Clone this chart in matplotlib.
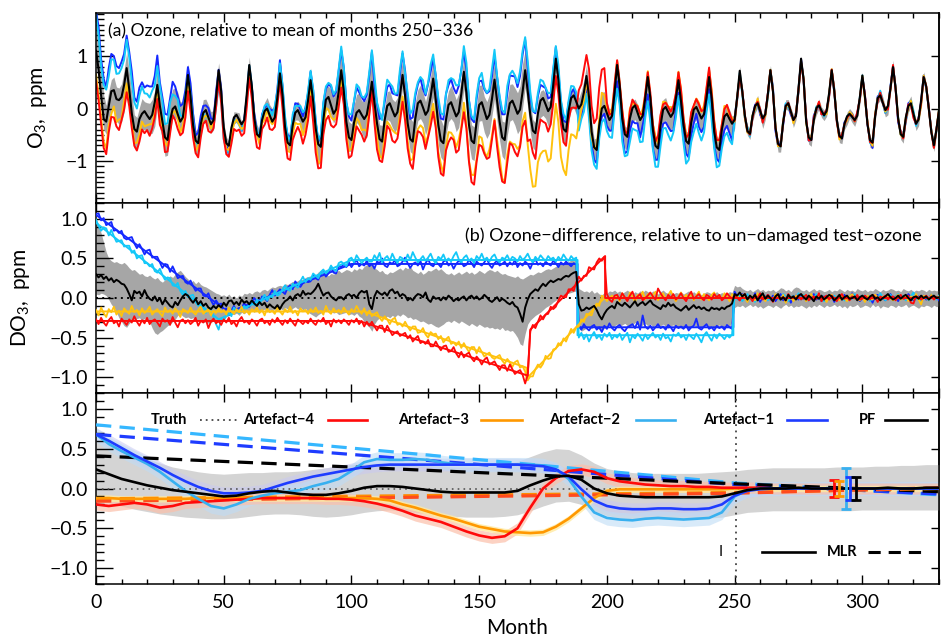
import numpy as np
import matplotlib
matplotlib.use("Agg")
import matplotlib.pyplot as plt
from matplotlib.ticker import MultipleLocator, FuncFormatter, NullLocator

plt.rcParams['font.family'] = ['Lato', 'DejaVu Sans']
plt.rcParams['mathtext.fontset'] = 'custom'
plt.rcParams['mathtext.rm'] = 'Lato'
plt.rcParams['mathtext.it'] = 'Lato:italic'
plt.rcParams['axes.linewidth'] = 1.1

# ---------------------------------------------------------------------------
# Monthly series (month 0 ... 330), values in units of 0.01 ppm, one row per year
# ---------------------------------------------------------------------------
# PF reconstruction of ozone, relative to the mean of months 250-336
pf_ozone = [
    110, 75, 25, -20, -25, 5, 33, 35, 18, 16, 22, 45,
    77, 37, -9, -39, -44, -20, -10, -5, -13, -20, -12, 12,
    45, 5, -25, -55, -60, -23, -1, 4, -11, -25, -17, 20,
    64, 24, -31, -61, -66, -30, -8, -3, -17, -30, -22, 22,
    73, 33, -36, -66, -71, -37, -17, -12, -21, -30, -22, 27,
    83, 43, -19, -49, -54, -22, -5, 0, -13, -25, -17, 21,
    67, 27, -35, -65, -70, -32, -8, -3, -14, -25, -17, 15,
    54, 14, -38, -68, -73, -21, 17, 22, 6, -10, -2, 32,
    73, 33, -25, -55, -60, -27, -8, -3, -12, -20, -12, 16,
    51, 11, -28, -58, -63, -22, 5, 10, -3, -15, -7, 25,
    64, 24, -28, -58, -63, -19, 10, 15, 2, -12, -4, 23,
    57, 17, -31, -61, -66, -22, 7, 12, -2, -15, -7, 28,
    70, 30, -31, -61, -66, -25, 7, 12, -4, -20, -12, 18,
    55, 15, -25, -55, -60, -17, 10, 15, 3, -10, -2, 32,
    73, 33, -12, -42, -47, -9, 15, 20, 8, -5, 3, 45,
    95, 55, -9, -39, -44, -5, 20, 25, 13, 0, 8, 31,
    62, 22, -44, -74, -79, -32, 0, 5, -9, -22, -14, 31,
    83, 43, -19, -49, -54, -19, 1, 6, -8, -22, -14, 19,
    60, 20, -41, -71, -76, -32, -2, 3, -7, -16, -8, 19,
    54, 14, -32, -62, -67, -27, -2, 3, -8, -19, -11, 21,
    60, 20, -44, -74, -79, -40, -15, -10, -20, -29, -21, 22,
    72, 32, -13, -43, -48, -14, 5, 10, -5, -19, -11, 27,
    73, 33, -37, -67, -72, -26, 5, 10, -6, -22, -14, 37,
    95, 55, -25, -55, -60, -22, 1, 6, -4, -13, -5, 30,
    73, 33, -22, -52, -57, -29, -15, -10, -16, -22, -14, 21,
    63, 23, -30, -60, -65, -15, 20, 25, 11, -3, 5, 38,
    79, 39, -19, -49, -54, -17, 5, 10, -10, -29, -21, 16,
    60, 42, 0, -45, -70, -40, -3,
]

# PF minus un-damaged test ozone
pf_diff = [
    30, 26, 29, 24, 27, 22, 25, 20, 23, 21, 18, 17,
    12, 5, -3, 9, 6, 8, 2, 10, 3, -1, -3, 2,
    -4, 0, -8, -2, -6, -10, -12, -5, -9, -3, 2, 5,
    3, -2, -6, -1, -8, -4, -10, -7, -12, -14, -10, -13,
    -9, -12, -6, -10, -4, -3, -8, -5, -9, -2, -6, -4,
    -8, -3, -7, -10, -5, -9, -6, -12, -8, -11, -13, -9,
    -14, -8, -4, -2, 2, -3, 3, 5, 2, 9, 4, 6,
    5, 8, 12, 18, 10, 3, 6, 7, 2, -1, -3, 1,
    1, -2, 3, 5, 2, 4, 0, 6, 9, 7, 9, -8,
    -14, 2, 9, 6, 4, 7, 3, 9, 11, 6, 8, 2,
    5, 3, -3, 0, -3, 2, 5, 4, 1, 7, -2, -5,
    2, -1, 0, -3, 1, -2, 3, 0, -4, -1, -3, 0,
    2, -3, 1, 3, -1, 2, -2, 0, 4, 1, -3, -5,
    -2, 1, -4, -1, -3, -6, -8, -5, -10, -12, -20, -30,
    -12, -2, 5, 8, 11, 9, 14, 18, 15, 19, 22, 20,
    22, 24, 23, 26, 28, 27, 30, 32, 33, -8, -16, -15,
    -12, -14, -12, -10, -15, -22, -27, -20, -15, -12, -10, -13,
    -5, -8, -10, -6, -9, -12, -8, -4, -10, -7, -5, -9,
    -6, -3, -8, -10, -12, -14, -9, -11, -6, -10, -8, -12,
    -14, -16, -13, -10, -15, -12, -9, -13, -11, -14, -12, -15,
    -16, -12, -14, -13, -15, -12, -14, -11, -10, -7, 5, 3,
    7, 2, 5, -2, 3, 0, 4, -3, 2, 6, -1, 3,
    0, -4, 2, 5, -2, 1, -3, 4, 0, 2, -2, 3,
    5, 1, -2, 3, 0, -4, 2, -1, 3, -2, 1, 4,
    2, -3, 0, 4, -2, 1, 3, -1, 0, 2, -3, 1,
    3, 0, -2, 2, 4, -1, 1, -3, 0, 2, 5, 1,
    -2, 0, 3, -1, 2, 4, 0, -3, 1, 2, -1, 3,
    0, 2, -2, 1, 3, 0, 1,
]

# Artefact-1 series minus un-damaged test ozone
art1_diff = [
    106, 107, 98, 101, 92, 94, 96, 85, 86, 82, 85, 76,
    74, 76, 77, 69, 63, 68, 62, 55, 60, 61, 51, 52,
    52, 45, 38, 43, 42, 33, 40, 33, 25, 27, 28, 20,
    18, 22, 15, 9, 12, 12, 3, 2, 6, -3, -9, -3,
    -8, -7, -15, -13, -22, -16, -10, -17, -13, -14, -6, -12,
    -11, -5, 0, -5, -7, 2, 0, -4, 4, 10, 3, 7,
    11, 8, 5, 13, 16, 11, 21, 17, 14, 19, 23, 20,
    21, 29, 25, 23, 30, 33, 27, 31, 38, 32, 31, 40,
    39, 43, 39, 45, 39, 44, 48, 40, 43, 41, 47, 40,
    43, 37, 46, 44, 50, 41, 39, 45, 43, 48, 40, 42,
    46, 51, 44, 38, 43, 45, 41, 47, 36, 44, 49, 42,
    40, 45, 43, 39, 46, 48, 41, 44, 37, 43, 47, 45,
    40, 42, 48, 44, 39, 46, 43, 41, 45, 50, 42, 38,
    44, 47, 41, 43, 46, 40, 45, 42, 48, 39, 44, 41,
    46, 43, 37, 45, 49, 42, 44, 40, 46, 43, 41, 47,
    44, 39, 45, 42, 46, 43, 40, 44, 42, -35, -40, -33,
    -38, -41, -36, -34, -40, -37, -43, -35, -39, -32, -38, -41,
    -36, -34, -39, -42, -37, -35, -33, -38, -30, -40, -22, -36,
    -39, -35, -41, -37, -33, -38, -36, -40, -34, -37, -42, -35,
    -38, -36, -39, -34, -41, -37, -35, -26, -38, -40, -36, -33,
    -39, -37, -41, -35, -38, -36, -40, -34, -37, -39, 8, 2,
    -3, 5, 1, -4, 3, -2, 6, 0, -5, 2, -1, 4,
    -2, 3, -4, 1, 5, -3, 0, 2, -6, 1, 3, -2,
    4, -1, 2, -3, 0, 5, -2, 1, -4, 2, 0, -1,
    3, -5, 1, 2, -2, 4, -3, 0, 6, -1, 2, -4,
    0, 3, -2, 1, -6, 2, 4, -1, 0, -3, 2, 5,
    -1, 2, -4, 3, 0, -2, 5, 1, -3, 0, 2, -1,
    3, -2, 0, 4, -1, 1, -3,
]

# Artefact-2 series minus un-damaged test ozone
art2_diff = [
    99, 91, 85, 89, 88, 79, 86, 78, 71, 72, 73, 65,
    66, 66, 57, 60, 50, 53, 54, 44, 44, 40, 43, 34,
    32, 37, 29, 23, 26, 25, 16, 15, 19, 9, 4, 9,
    1, 3, 4, -5, -10, -6, -11, -19, -15, -13, -24, -33,
    -40, -27, -29, -21, -18, -23, -12, -16, -19, -14, -10, -13,
    -9, -4, -9, -2, -8, -1, 4, -3, 2, 1, 9, 3,
    5, 11, 16, 11, 9, 18, 16, 13, 21, 27, 20, 25,
    23, 31, 28, 25, 33, 36, 31, 34, 41, 36, 34, 44,
    46, 43, 40, 49, 51, 45, 54, 49, 44, 48, 51, 46,
    46, 54, 49, 57, 45, 50, 53, 47, 56, 49, 44, 52,
    50, 46, 55, 48, 58, 51, 45, 49, 53, 47, 51, 56,
    48, 44, 52, 49, 55, 47, 50, 46, 53, 58, 49, 45,
    51, 54, 47, 50, 44, 53, 49, 56, 48, 51, 46, 52,
    55, 48, 45, 51, 49, 54, 47, 52, 50, 46, 53, 48,
    51, 56, 49, 45, 52, 48, 54, 50, 47, 53, 49, 51,
    46, 52, 48, 55, 50, 47, 53, 49, 51, -50, -44, -52,
    -46, -55, -48, -43, -51, -47, -53, -45, -49, -44, -52, -47,
    -50, -45, -53, -48, -44, -56, -47, -51, -45, -49, -54, -46,
    -52, -48, -44, -50, -47, -53, -45, -51, -49, -55, -46, -48,
    -44, -50, -47, -53, -46, -49, -52, -45, -50, -56, -47, -43,
    -49, -54, -46, -51, -45, -48, -52, -47, -50, -46, 4, -2,
    3, -4, 1, 5, -2, 0, -5, 2, 6, -1, 3, -3,
    1, -2, 4, 0, -3, 5, 2, -4, 1, 3, -1, 6,
    -2, 4, 1, -3, 2, 0, 5, -1, 3, -4, 1, 2,
    0, 3, -2, 1, 4, -3, 2, 0, -1, 5, -2, 1,
    3, -1, 2, -4, 0, 2, -2, 6, 1, -3, 0, 4,
    -2, 1, 5, -1, 3, -3, 0, 2, 7, -2, 1, -4,
    2, 0, -3, 4, 1, -2, 3,
]

# Artefact-3 series minus un-damaged test ozone
art3_diff = [
    -15, -22, -12, -19, -24, -14, -18, -11, -21, -16, -23, -13,
    -17, -20, -10, -18, -15, -22, -13, -19, -16, -11, -21, -17,
    -14, -19, -23, -12, -18, -15, -20, -13, -17, -24, -14, -16,
    -19, -12, -18, -21, -15, -11, -20, -17, -14, -22, -16, -19,
    -13, -18, -15, -21, -12, -17, -20, -14, -18, -11, -19, -16,
    -21, -14, -17, -12, -19, -15, -22, -13, -18, -16, -20, -12,
    -17, -21, -14, -18, -11, -19, -16, -22, -13, -17, -15, -20,
    -14, -18, -12, -19, -16, -21, -10, -17, -20, -13, -18, -15,
    -19, -12, -17, -21, -14, -18, -10, -16, -20, -13, -22, -16,
    -23, -20, -18, -25, -29, -23, -27, -33, -27, -25, -34, -32,
    -36, -30, -36, -41, -36, -36, -44, -43, -38, -46, -50, -43,
    -46, -45, -52, -48, -56, -52, -49, -58, -56, -60, -55, -63,
    -57, -63, -68, -62, -62, -70, -62, -68, -74, -71, -69, -75,
    -77, -74, -72, -79, -83, -77, -81, -87, -81, -79, -88, -86,
    -93, -104, -99, -99, -90, -84, -88, -83, -73, -77, -76, -65,
    -64, -57, -60, -51, -55, -47, -39, -44, -37, -36, -27, -30,
    -20, -21, -22, -12, -7, -10, 3, 1, -4, 0, 3, -2,
    3, -4, 6, 0, -3, 7, 2, -5, 4, 1, 8, -2,
    5, -1, 3, 8, -3, 2, 6, -2, 4, 9, 1, -4,
    2, 7, -1, 4, 0, 6, -3, 3, 8, -2, 5, 1,
    -3, 4, 7, 0, 3, -2, 6, 2, -4, 5, 1, 3,
    -2, 4, 0, -5, 3, 1, -3, 6, -1, 2, -4, 3,
    1, -3, 5, 0, -2, 4, -6, 2, 1, -4, 3, 0,
    -1, 3, -4, 2, 5, -2, 0, 4, -3, 1, -5, 2,
    4, -2, 1, -3, 3, 0, -4, 2, 5, -1, 0, -3,
    2, -5, 3, 0, -2, 4, 1, -3, 2, -1, 4, 0,
    -3, 1, 4, -2, 0, 3, -4, 2, -1, 5, -2, -8,
    3, 1, -2, 4, -1, 0, 2,
]

# Artefact-4 series minus un-damaged test ozone
art4_diff = [
    -27, -33, -25, -31, -35, -28, -24, -32, -29, -36, -26, -30,
    -34, -27, -31, -23, -30, -35, -28, -32, -25, -33, -29, -27,
    -31, -36, -26, -30, -28, -34, -24, -31, -37, -29, -27, -32,
    -28, -33, -30, -25, -35, -29, -31, -27, -38, -30, -26, -32,
    -29, -34, -27, -31, -25, -33, -30, -36, -28, -24, -31, -29,
    -33, -27, -30, -35, -28, -26, -32, -29, -34, -27, -31, -25,
    -30, -34, -28, -32, -26, -31, -35, -27, -30, -33, -29, -32,
    -26, -31, -34, -28, -30, -25, -33, -29, -36, -27, -31, -28,
    -32, -27, -30, -34, -28, -31, -26, -33, -29, -36, -30, -35,
    -30, -36, -41, -35, -35, -43, -35, -41, -47, -44, -42, -48,
    -46, -44, -51, -47, -55, -51, -48, -57, -55, -58, -53, -61,
    -61, -55, -61, -66, -61, -60, -68, -67, -62, -70, -75, -68,
    -75, -71, -69, -76, -80, -74, -78, -84, -78, -75, -84, -82,
    -80, -86, -91, -85, -85, -92, -84, -90, -96, -93, -91, -97,
    -108, -97, -42, -34, -38, -30, -22, -27, -21, -20, -11, -14,
    -11, -3, 3, 1, 1, 11, 11, 9, 20, 27, 22, 28,
    28, 39, 37, 36, 45, 50, 47, 52, 5, -2, -5, 3,
    4, -2, 6, 1, -4, 3, 8, -1, 2, 5, -3, 0,
    3, 7, 2, -2, 12, 6, 1, -3, 4, 0, 5, -2,
    1, 6, 0, -4, 3, 8, -1, 2, 5, 0, -3, 4,
    2, -2, 5, 1, 4, -3, 0, 6, 2, -1, 3, 0,
    -3, 2, 5, -1, 1, -4, 3, 0, 6, -2, 1, 4,
    0, -5, 2, 4, -2, 1, -3, 5, 0, 2, -1, 3,
    -2, 1, 4, -3, 0, 2, -1, 6, -4, 1, 3, -2,
    3, 0, -4, 2, 5, -1, 1, -3, 2, 0, 4, -2,
    -1, 3, 0, -2, 4, 1, -5, 2, 0, 3, -2, 1,
    2, -3, 1, 4, -1, 0, 3, -6, -7, 2, 1, -2,
    0, 3, -1, 2, -2, 1, 0,
]

# PF uncertainty range of the difference (upper / lower edge)
band_hi = [
    100, 92, 82, 70, 58, 50, 47, 45, 46, 44, 43, 45,
    42, 38, 35, 36, 33, 30, 31, 28, 27, 29, 26, 24,
    26, 22, 20, 23, 25, 28, 26, 30, 33, 35, 31, 27,
    24, 20, 22, 18, 21, 17, 15, 14, 12, 10, 8, 6,
    5, 3, 4, 2, 5, 1, 3, 0, 4, 2, 6, 5,
    7, 5, 8, 9, 7, 10, 11, 9, 12, 14, 13, 15,
    16, 15, 18, 17, 19, 21, 20, 22, 24, 23, 26, 27,
    28, 30, 29, 33, 35, 32, 30, 28, 31, 30, 33, 35,
    32, 34, 36, 35, 33, 37, 35, 38, 36, 40, 42, 45,
    43, 38, 36, 33, 35, 31, 30, 33, 32, 34, 36, 38,
    35, 39, 37, 40, 35, 33, 31, 34, 30, 32, 35, 34,
    36, 38, 35, 37, 34, 31, 30, 32, 29, 31, 33, 30,
    32, 34, 31, 33, 30, 32, 35, 33, 31, 34, 36, 35,
    33, 35, 32, 30, 31, 29, 28, 27, 26, 28, 25, 24,
    26, 28, 30, 29, 31, 33, 32, 34, 36, 37, 36, 38,
    40, 41, 43, 45, 44, 46, 48, 47, 48, 12, 10, 8,
    9, 7, 10, 6, 8, 5, 4, 7, 6, 9, 8, 10,
    7, 9, 6, 8, 10, 7, 5, 8, 6, 9, 7, 10,
    8, 6, 9, 7, 5, 8, 10, 7, 6, 8, 5, 7,
    6, 8, 5, 7, 9, 6, 8, 5, 7, 4, 6, 8,
    7, 5, 6, 8, 5, 7, 4, 6, 8, 7, 16, 14,
    15, 12, 10, 9, 11, 8, 10, 12, 9, 11, 8, 10,
    9, 11, 8, 10, 13, 12, 9, 11, 8, 12, 14, 13,
    10, 9, 11, 8, 10, 12, 9, 11, 10, 8, 9, 11,
    8, 10, 9, 12, 10, 8, 11, 9, 10, 8, 12, 10,
    9, 11, 8, 10, 9, 12, 10, 8, 11, 9, 10, 12,
    11, 9, 10, 8, 12, 10, 9, 11, 8, 10, 9, 11,
    10, 8, 11, 9, 10, 9, 10,
]
band_lo = [
    5, 4, 6, 5, 3, -2, -8, -12, -18, -25, -30, -35,
    -37, -32, -29, -27, -26, -25, -28, -26, -24, -30, -38, -44,
    -46, -43, -41, -38, -35, -33, -30, -27, -22, -20, -23, -25,
    -24, -26, -25, -27, -28, -29, -31, -30, -32, -31, -29, -30,
    -31, -29, -27, -24, -22, -20, -21, -19, -22, -18, -20, -17,
    -19, -16, -18, -15, -17, -16, -14, -18, -15, -17, -14, -16,
    -13, -15, -12, -14, -16, -13, -11, -14, -12, -15, -13, -18,
    -20, -22, -24, -21, -19, -17, -16, -15, -17, -19, -18, -21,
    -20, -19, -18, -21, -20, -22, -19, -23, -25, -30, -34, -37,
    -42, -33, -28, -25, -24, -26, -23, -25, -22, -24, -21, -23,
    -20, -22, -25, -24, -27, -26, -28, -30, -29, -31, -33, -32,
    -34, -36, -37, -35, -33, -30, -29, -31, -28, -30, -32, -29,
    -31, -33, -35, -32, -34, -36, -33, -35, -37, -36, -38, -37,
    -39, -38, -40, -37, -41, -40, -42, -41, -45, -50, -58, -60,
    -45, -33, -28, -25, -22, -20, -18, -15, -12, -10, -8, -5,
    -3, 0, 2, 3, 5, 6, 7, 8, 9, -38, -42, -40,
    -38, -36, -39, -35, -37, -40, -42, -38, -36, -34, -37, -35,
    -33, -36, -34, -32, -35, -37, -34, -31, -33, -36, -34, -32,
    -35, -33, -36, -34, -37, -35, -33, -36, -38, -35, -34, -37,
    -36, -38, -35, -37, -39, -36, -34, -37, -35, -38, -36, -34,
    -37, -35, -38, -36, -34, -37, -35, -33, -36, -30, -12, -10,
    -11, -9, -12, -10, -8, -11, -9, -12, -10, -13, -11, -9,
    -10, -12, -9, -11, -13, -10, -8, -11, -9, -12, -10, -11,
    -9, -11, -13, -10, -12, -9, -11, -8, -10, -12, -9, -11,
    -10, -8, -11, -9, -12, -10, -13, -9, -11, -10, -8, -12,
    -11, -9, -10, -12, -8, -11, -9, -13, -10, -11, -12, -9,
    -10, -12, -9, -11, -10, -8, -12, -10, -9, -11, -13, -10,
    -11, -9, -10, -12, -9, -11, -10,
]

# Imposed artefact shapes (month, ppm)
art1_knot_month = [0, 52, 100, 188.5, 188.5, 249.5, 249.5, 330]
art1_knot_value = [1.05, -0.18, 0.43, 0.43, -0.37, -0.37, 0.0, 0.0]
art2_knot_month = [0, 48, 100, 188.5, 188.5, 249.5, 249.5, 330]
art2_knot_value = [0.95, -0.27, 0.48, 0.48, -0.47, -0.47, 0.0, 0.0]
art3_knot_month = [0, 105, 168.5, 168.5, 199, 330]
art3_knot_value = [-0.17, -0.17, -0.88, -1.02, 0.0, 0.0]
art4_knot_month = [0, 103, 169, 170, 199.3, 199.3, 330]
art4_knot_value = [-0.29, -0.29, -0.98, -0.40, 0.53, 0.0, 0.0]

# Smooth fits on a 5-month grid (0, 5, ..., 330), units of 0.01 ppm
fit_step = 5
fit_pf = [
    24, 18, 12, 8, 4, 1, -2, -4, -6, -8,
    -10, -9, -6, -4, -3, -5, -7, -8, -8, -6,
    -3, 1, 3, 3, 2, 0, -2, -4, -5, -5,
    -5, -5, -5, -3, 4, 10, 15, 16, 11, 0,
    -6, -9, -10, -11, -11, -11, -11, -11, -11, -10,
    -6, -2, 0, 0, 0, 1, 0, 0, 0, 0,
    0, 0, 1, 0, 0, 1, 1,
]
fit_pf_hi = [
    62, 55, 48, 42, 37, 32, 27, 24, 21, 19,
    18, 19, 20, 20, 21, 21, 22, 24, 26, 28,
    30, 31, 32, 32, 31, 30, 29, 28, 27, 27,
    27, 28, 30, 34, 40, 46, 50, 49, 42, 32,
    25, 22, 20, 19, 19, 19, 19, 19, 20, 21,
    22, 24, 25, 26, 26, 26, 26, 26, 27, 27,
    27, 28, 28, 29, 29, 30, 30,
]
fit_pf_lo = [
    -15, -18, -22, -26, -29, -32, -34, -36, -37, -38,
    -38, -37, -35, -33, -32, -32, -33, -35, -36, -35,
    -33, -30, -28, -27, -28, -30, -32, -34, -35, -36,
    -36, -36, -35, -33, -28, -22, -17, -16, -20, -28,
    -34, -37, -38, -38, -38, -38, -38, -38, -37, -36,
    -33, -30, -29, -28, -28, -28, -28, -28, -28, -28,
    -27, -27, -27, -27, -27, -27, -27,
]
fit_art1 = [
    68, 60, 51, 42, 34, 26, 17, 9, 2, -3,
    -6, -6, -5, -3, 2, 7, 11, 15, 18, 21,
    24, 27, 29, 30, 30, 30, 30, 30, 30, 30,
    30, 30, 30, 30, 29, 28, 24, 15, -1, -15,
    -22, -25, -26, -26, -25, -25, -26, -26, -25, -20,
    -9, -3, -1, 0, 0, 0, 0, 0, 0, 0,
    0, 0, 0, 0, 0, 0, 0,
]
fit_art2 = [
    68, 56, 47, 39, 31, 21, 9, -3, -13, -22,
    -25, -20, -13, -9, -6, -4, -2, 3, 7, 12,
    22, 33, 37, 36, 36, 37, 36, 33, 31, 30,
    30, 30, 30, 30, 30, 29, 24, 12, -10, -30,
    -37, -39, -40, -38, -37, -38, -39, -38, -37, -30,
    -10, -2, 0, 0, 0, 0, 0, 0, 0, 0,
    0, 0, 0, 0, 0, 0, 0,
]
fit_art3 = [
    -12, -12, -13, -13, -13, -13, -13, -13, -12, -12,
    -12, -12, -12, -12, -12, -12, -12, -12, -12, -12,
    -12, -12, -13, -15, -20, -24, -29, -34, -38, -43,
    -48, -51, -54, -55, -56, -55, -48, -38, -25, -12,
    -3, -1, -1, -1, -1, -1, -1, -1, -1, -1,
    0, 0, 0, 0, 0, 0, 0, 0, 0, 0,
    0, 0, 0, 0, 0, 0, 0,
]
fit_art4 = [
    -20, -22, -20, -18, -20, -24, -22, -18, -17, -16,
    -15, -14, -13, -12, -12, -12, -12, -12, -13, -13,
    -14, -16, -19, -23, -28, -34, -38, -42, -48, -54,
    -59, -62, -60, -50, -24, 0, 13, 22, 24, 21,
    13, 9, 7, 5, 4, 3, 3, 2, 2, 1,
    1, 1, 1, 0, 0, 0, 0, 0, 0, 0,
    0, 0, 0, 0, 0, 0, 0,
]
# half-widths of the fit uncertainty shading (ppm)
fit_art1_hw = 0.08
fit_art2_hw = 0.09
fit_art3_hw = 0.04
fit_art4_hw = 0.07

# MLR trends (hockey stick with turnaround at month 250), ppm
mlr_month = [0, 250, 330]
mlr_pf = [0.41, 0.06, -0.04]
mlr_art1 = [0.68, 0.05, -0.07]
mlr_art2 = [0.80, 0.07, -0.08]
mlr_art3 = [-0.13, -0.05, 0.00]
mlr_art4 = [-0.16, -0.06, 0.01]

# Uncertainty of the recovery-period trend estimate
err_month = [289.0, 291.0, 293.5, 295.0, 297.5]
err_center = [0.0, 0.0, 0.0, 0.0, 0.0]
err_half = [0.11, 0.10, 0.26, 0.15, 0.15]

turnaround_month = 250.5

# ---------------------------------------------------------------------------
def cppm(v):
    return np.asarray(v, dtype=float) / 100.0

monthly = [pf_ozone, pf_diff, art1_diff, art2_diff, art3_diff, art4_diff, band_hi, band_lo]
n = min(len(s) for s in monthly)
pfo, pfd, d1, d2, d3, d4, bhi, blo = [cppm(s)[:n] for s in monthly]
months = np.arange(n)
truth = pfo - pfd                      # un-damaged test ozone

nf = min(len(s) for s in [fit_pf, fit_pf_hi, fit_pf_lo, fit_art1, fit_art2, fit_art3, fit_art4])
fm = np.arange(nf) * fit_step
f_pf, f_hi, f_lo, f1, f2, f3, f4 = [cppm(s)[:nf] for s in
                                    [fit_pf, fit_pf_hi, fit_pf_lo, fit_art1, fit_art2, fit_art3, fit_art4]]

RED = '#ff0a0a'
GOLD = '#ffc20e'
CYAN = '#14c8f8'
BLUE = '#1428ff'
ORANGE = '#ff9800'
LBLUE = '#38b0f0'
CBLUE = '#1e3cff'
GREY_AB = '#a6a6a6'
GREY_C = '#d4d4d4'

fig = plt.figure(figsize=(9.41, 6.38), dpi=100)
L, W = 96 / 941, 843 / 941
H = 190 / 638
ax_a = fig.add_axes([L, 1 - 203 / 638, W, H])
ax_b = fig.add_axes([L, 1 - 393 / 638, W, H])
ax_c = fig.add_axes([L, 1 - 584 / 638, W, 191 / 638])


def fmt1(v, p):
    if abs(v) < 1e-9:
        return '0.0'
    return f'{v:.1f}'.replace('-', '\u2212')


def fmt0(v, p):
    if abs(v) < 1e-9:
        return '0'
    return f'{v:.0f}'.replace('-', '\u2212')


def style(ax, ylim, major, formatter, show_x):
    ax.set_xlim(0, 330)
    ax.set_ylim(*ylim)
    ax.xaxis.set_major_locator(MultipleLocator(50))
    ax.xaxis.set_minor_locator(MultipleLocator(10))
    ax.yaxis.set_major_locator(MultipleLocator(major))
    ax.yaxis.set_minor_locator(MultipleLocator(0.1))
    ax.yaxis.set_major_formatter(FuncFormatter(formatter))
    ax.tick_params(axis='x', which='major', direction='in', top=True, bottom=True,
                   length=6.5, width=1.0, labelsize=14, pad=7, labelbottom=show_x)
    ax.tick_params(axis='x', which='minor', direction='in', top=True, bottom=True,
                   length=3.5, width=1.0)
    ax.tick_params(axis='y', which='major', direction='in', left=True, right=False,
                   length=12, width=1.0, labelsize=14, pad=6)
    ax.tick_params(axis='y', which='minor', direction='in', left=True, right=False,
                   length=5.5, width=1.0)
    sec = ax.secondary_yaxis('right')
    sec.yaxis.set_major_locator(MultipleLocator(major))
    sec.yaxis.set_minor_locator(NullLocator())
    sec.tick_params(axis='y', direction='in', length=6, width=1.0, labelright=False)
    sec.spines['right'].set_linewidth(1.1)


# ---------------- (a) ozone ----------------
ax = ax_a
ax.fill_between(months, truth + blo, truth + bhi, color=GREY_AB, lw=0, zorder=1)
for d, c in [(d1, BLUE), (d2, CYAN), (d3, GOLD), (d4, RED)]:
    ax.plot(months, truth + d, color=c, lw=1.4, zorder=2)
ax.plot(months, pfo, color='black', lw=1.5, zorder=3)
style(ax, (-1.8, 1.82), 1.0, fmt0, False)
ax.set_ylabel('O$_3$,  ppm', fontsize=15)
ax.yaxis.set_label_coords(-0.056, 0.5)
ax.text(0.014, 0.905, '(a) Ozone, relative to mean of months 250\u2212336',
        transform=ax.transAxes, fontsize=12.6, va='center', ha='left')

# ---------------- (b) ozone difference ----------------
ax = ax_b
ax.fill_between(months, blo, bhi, color=GREY_AB, lw=0, zorder=1)
ax.axhline(0, color='black', lw=1.4, ls=(0, (1, 2.2)), zorder=2)
for km, kv, d, c in [(art1_knot_month, art1_knot_value, d1, BLUE),
                     (art2_knot_month, art2_knot_value, d2, CYAN),
                     (art3_knot_month, art3_knot_value, d3, GOLD),
                     (art4_knot_month, art4_knot_value, d4, RED)]:
    ax.plot(km, kv, color=c, lw=1.4, zorder=3)
    ax.plot(months, d, color=c, lw=1.3, zorder=3)
ax.plot(months, pfd, color='black', lw=1.4, zorder=4)
style(ax, (-1.2, 1.2), 0.5, fmt1, False)
ax.set_ylabel('DO$_3$,  ppm', fontsize=15)
ax.yaxis.set_label_coords(-0.076, 0.5)
ax.text(0.979, 0.83, '(b) Ozone\u2212difference, relative to un\u2212damaged test\u2212ozone',
        transform=ax.transAxes, fontsize=13, va='center', ha='right')

# ---------------- (c) fitted artefacts ----------------
ax = ax_c
ax.fill_between(fm, f_lo, f_hi, color=GREY_C, lw=0, zorder=1)
ax.fill_between(fm, f1 - fit_art1_hw, f1 + fit_art1_hw, color='#c9c9f2', alpha=0.55, lw=0, zorder=1.2)
ax.fill_between(fm, f2 - fit_art2_hw, f2 + fit_art2_hw, color='#bfdcf5', alpha=0.6, lw=0, zorder=1.2)
ax.fill_between(fm, f4 - fit_art4_hw, f4 + fit_art4_hw, color='#fbc0aa', alpha=0.7, lw=0, zorder=1.2)
ax.fill_between(fm, f3 - fit_art3_hw, f3 + fit_art3_hw, color='#ffeaa0', alpha=0.8, lw=0, zorder=1.2)
ax.axhline(0, color='#555555', lw=1.2, ls=(0, (1, 2.5)), zorder=2)
ax.axvline(turnaround_month, color='#444444', lw=1.3, ls=(0, (1, 2.5)), zorder=2)

dash = (0, (4.8, 2.6))
for v, c in [(mlr_art2, '#35b7ff'), (mlr_art1, CBLUE), (mlr_pf, 'black'),
             (mlr_art3, '#ff8a00'), (mlr_art4, '#ff4a1e')]:
    ax.plot(mlr_month, v, color=c, lw=2.3, ls=dash, zorder=3)

for f, c in [(f3, ORANGE), (f4, RED), (f2, LBLUE), (f1, CBLUE), (f_pf, 'black')]:
    ax.plot(fm, f, color=c, lw=1.9, zorder=4)

for xm, yc, hh, c in zip(err_month, err_center, err_half, [RED, ORANGE, LBLUE, CBLUE, 'black']):
    ax.errorbar([xm], [yc], yerr=[hh], fmt='none', ecolor=c, elinewidth=2.0,
                capsize=3.5, capthick=2.0, zorder=5)

style(ax, (-1.2, 1.2), 0.5, fmt1, True)
ax.set_xlabel('Month', fontsize=15, labelpad=5)

# key, row 1: label followed by its line sample
tr = ax.transAxes
key_y = 0.859
key = [('Truth', 0.108, 0.123, 0.171, '#444444', (0, (1, 2.2)), 1.3),
       ('Artefact\u22124', 0.259, 0.275, 0.322, RED, '-', 1.9),
       ('Artefact\u22123', 0.443, 0.457, 0.505, ORANGE, '-', 1.9),
       ('Artefact\u22122', 0.621, 0.640, 0.687, LBLUE, '-', 1.9),
       ('Artefact\u22121', 0.804, 0.820, 0.867, CBLUE, '-', 1.9),
       ('PF', 0.925, 0.936, 0.986, 'black', '-', 1.9)]
for lab, xr, x0, x1, c, ls, lw in key:
    ax.text(xr, key_y, lab, transform=tr, ha='right', va='center', fontsize=10.5,
            fontweight='bold', zorder=6)
    ax.plot([x0, x1], [key_y, key_y], transform=tr, color=c, ls=ls, lw=lw, zorder=6)

# key, row 2: fitted curve vs MLR trend
key2_y = 0.168
ax.text(0.741, key2_y, 'I', transform=tr, ha='center', va='center', fontsize=10.5, zorder=6)
ax.plot([0.790, 0.853], [key2_y, key2_y], transform=tr, color='black', lw=1.9, zorder=6)
ax.text(0.885, key2_y, 'MLR', transform=tr, ha='center', va='center', fontsize=10.5,
        fontweight='bold', zorder=6)
ax.plot([0.916, 0.979], [key2_y, key2_y], transform=tr, color='black', lw=2.2,
        ls=(0, (4.0, 2.6)), zorder=6)

fig.savefig('out.png', dpi=100)
